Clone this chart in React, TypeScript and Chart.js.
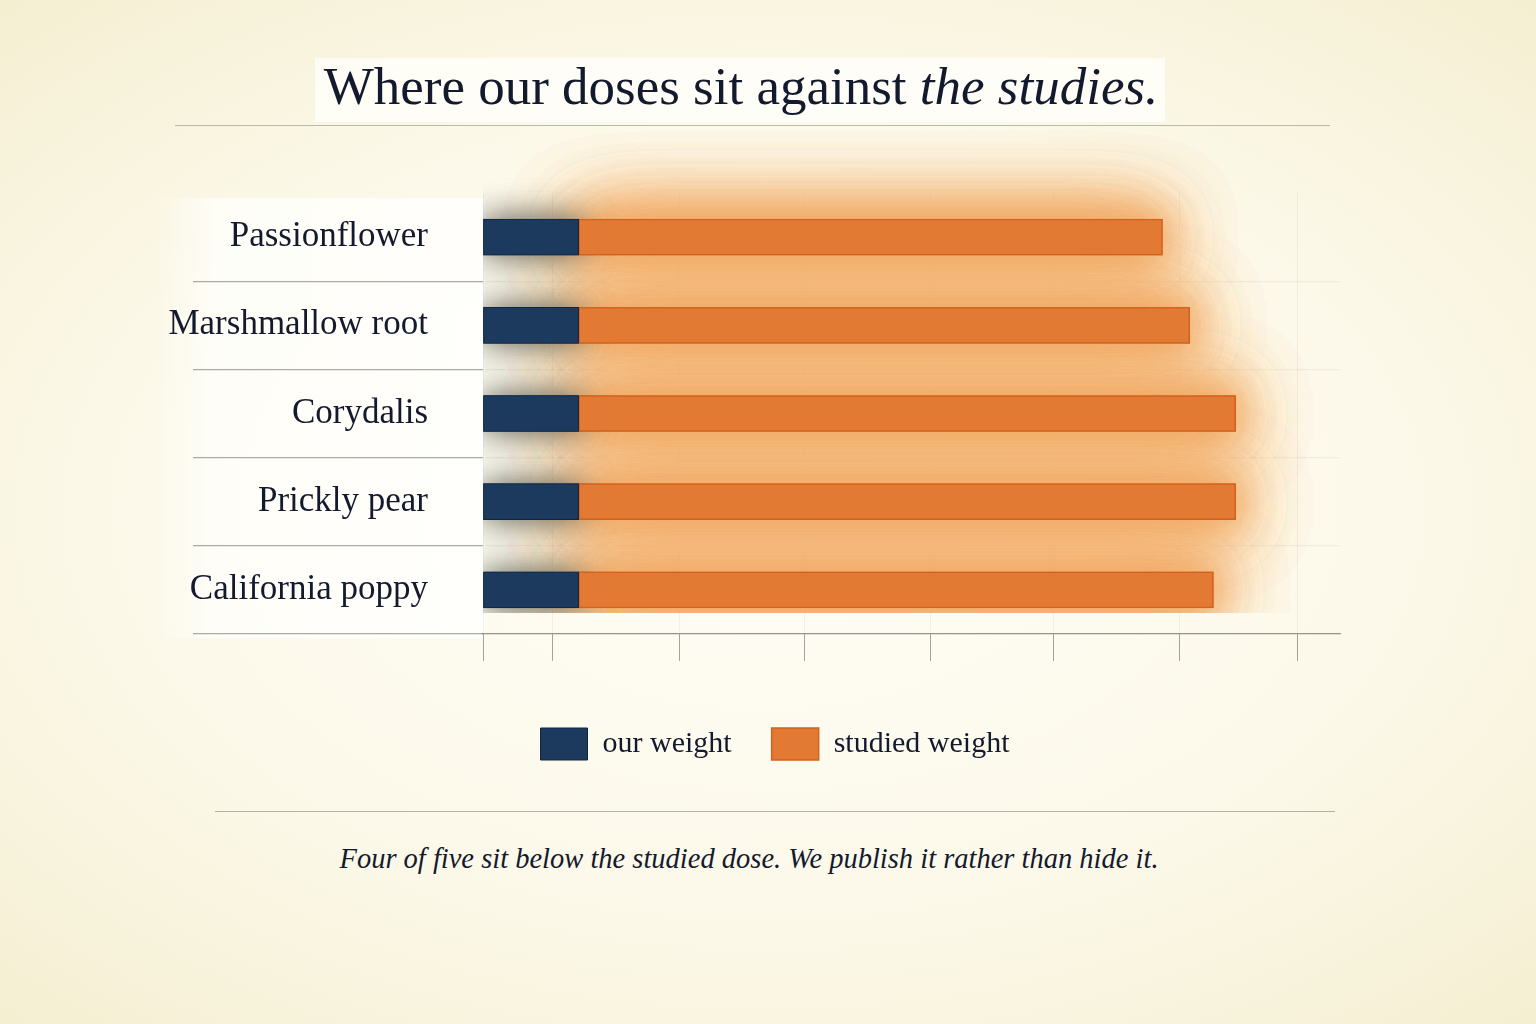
import React, { useEffect, useRef } from "react";
import { Chart, registerables } from "chart.js";

Chart.register(...registerables);

const CATEGORIES = ["Passionflower", "Marshmallow root", "Corydalis", "Prickly pear", "California poppy"];
const OUR_WEIGHT = [77, 77, 77, 77, 77];
const STUDIED_WEIGHT = [547, 569, 606, 606, 588];
const X_TICKS = [0, 56, 158, 259, 360, 459, 561, 656];
const X_MAX = 690;
const SERIES_LABELS = ["our weight", "studied weight"];
const TITLE_MAIN = "Where our doses sit against ";
const TITLE_ITALIC = "the studies.";
const CAPTION = "Four of five sit below the studied dose. We publish it rather than hide it.";

const NAVY = "#1c3a5e";
const NAVY_EDGE = "#11253f";
const ORANGE = "#e37a34";
const ORANGE_EDGE = "#d2621f";
const INK = "#141a2e";
const SERIF = "'Liberation Serif', 'DejaVu Serif', serif";

const glowPlugin = {
  id: "glow",
  afterLayout(chart: any) {
    if (chart.legend) {
      chart.legend.left += 60;
    }
  },
  beforeDatasetsDraw(chart: any) {
    const ctx = chart.ctx;
    const area = chart.chartArea;
    const drawBars = (i: number) => {
      const meta = chart.getDatasetMeta(i);
      meta.data.forEach((el: any) => {
        const { x, y, base, height } = el.getProps(["x", "y", "base", "height"], true);
        const left = Math.min(x, base);
        const w = Math.abs(x - base);
        ctx.fillRect(left, y - height / 2, w, height);
      });
    };
    ctx.save();
    ctx.beginPath();
    ctx.rect(area.left, 0, area.right - area.left + 30, area.bottom - 21);
    ctx.clip();
    // orange glow first (wide, then tighter)
    ctx.fillStyle = ORANGE;
    ctx.shadowColor = "rgba(244,178,110,0.9)";
    ctx.shadowBlur = 80;
    for (let p = 0; p < 4; p++) drawBars(1);
    ctx.shadowColor = "rgba(240,165,95,0.85)";
    ctx.shadowBlur = 40;
    for (let p = 0; p < 2; p++) drawBars(1);
    // navy soft shadow
    ctx.fillStyle = NAVY;
    ctx.shadowColor = "rgba(70,70,55,0.55)";
    ctx.shadowBlur = 34;
    for (let p = 0; p < 2; p++) drawBars(0);
    ctx.restore();
  },
};

function BarChart() {
  const ref = useRef<HTMLCanvasElement>(null);
  useEffect(() => {
    if (!ref.current) return;
    const chart = new Chart(ref.current, {
      type: "bar",
      data: {
        labels: CATEGORIES,
        datasets: [
          {
            label: SERIES_LABELS[0],
            data: OUR_WEIGHT,
            backgroundColor: NAVY,
            borderColor: NAVY_EDGE,
            borderWidth: 1,
            borderSkipped: false,
            grouped: false,
            barThickness: 36,
          } as any,
          {
            label: SERIES_LABELS[1],
            data: STUDIED_WEIGHT.map((s, i) => [OUR_WEIGHT[i], s]),
            backgroundColor: ORANGE,
            borderColor: ORANGE_EDGE,
            borderWidth: 1.5,
            borderSkipped: false,
            grouped: false,
            barThickness: 36,
          } as any,
        ],
      },
      options: {
        indexAxis: "y",
        animation: false,
        responsive: false,
        maintainAspectRatio: false,
        layout: { padding: { left: 150, right: 196, top: 93, bottom: 0 } },
        scales: {
          x: {
            min: 0,
            max: X_MAX,
            afterBuildTicks: (scale: any) => {
              scale.ticks = X_TICKS.map((v) => ({ value: v }));
            },
            afterFit: (scale: any) => {
              scale.height = 54;
            },
            ticks: { display: false },
            grid: {
              color: "rgba(90,90,80,0.07)",
              tickColor: "rgba(90,90,80,0.55)",
              tickLength: 27,
              lineWidth: 1,
            },
            border: { display: true, color: "rgba(90,90,80,0.6)", width: 1.2 },
          },
          y: {
            afterFit: (scale: any) => {
              scale.width = 333;
            },
            ticks: {
              color: INK,
              font: { family: SERIF, size: 35 },
              padding: -235,
            },
            grid: {
              offset: true,
              color: (ctx: any) => (ctx.index === 0 ? "rgba(0,0,0,0)" : "rgba(90,90,80,0.07)"),
              tickColor: (ctx: any) => (ctx.index === 0 ? "rgba(0,0,0,0)" : "rgba(90,90,80,0.5)"),
              tickLength: 290,
              lineWidth: 1.2,
            },
            border: { display: false },
          },
        },
        plugins: {
          legend: {
            position: "bottom",
            labels: {
              boxWidth: 47,
              boxHeight: 32,
              padding: 40,
              color: INK,
              font: { family: SERIF, size: 30 },
              sort: (a: any, b: any) => a.datasetIndex - b.datasetIndex,
            },
          },
          tooltip: { enabled: false },
          title: { display: false },
        },
      } as any,
      plugins: [glowPlugin],
    });
    return () => chart.destroy();
  }, []);
  return (
    <canvas
      ref={ref}
      width={1536}
      height={670}
      style={{ position: "absolute", left: 0, top: 100, width: 1536, height: 670 }}
    />
  );
}

export default function App() {
  return (
    <div
      style={{
        position: "absolute",
        left: 0,
        top: 0,
        width: 1536,
        height: 1024,
        overflow: "hidden",
        background:
          "radial-gradient(ellipse 75% 70% at 50% 50%, #fffef6 0%, #fcf9ea 55%, #f4eed0 100%)",
        fontFamily: SERIF,
        color: INK,
      }}
    >
      <div
        style={{
          position: "absolute",
          left: 315,
          top: 58,
          width: 850,
          height: 64,
          background: "rgba(255,255,252,0.75)",
        }}
      />
      <div
        style={{
          position: "absolute",
          left: 155,
          top: 198,
          width: 330,
          height: 440,
          background:
            "linear-gradient(90deg, rgba(255,255,252,0) 0%, rgba(255,255,252,0.8) 20%, rgba(255,255,252,0.9) 100%)",
        }}
      />
      <div
        style={{
          position: "absolute",
          left: 175,
          top: 125,
          width: 1155,
          height: 0,
          borderTop: "1.5px solid rgba(110,110,100,0.45)",
        }}
      />
      <BarChart />
      <div
        style={{
          position: "absolute",
          left: 741,
          top: 60,
          transform: "translateX(-50%)",
          whiteSpace: "nowrap",
          fontSize: 53,
          lineHeight: "53px",
          color: INK,
        }}
      >
        {TITLE_MAIN}
        <span style={{ fontStyle: "italic" }}>{TITLE_ITALIC}</span>
      </div>
      <div
        style={{
          position: "absolute",
          left: 215,
          top: 811,
          width: 1120,
          height: 0,
          borderTop: "1.5px solid rgba(110,110,100,0.5)",
        }}
      />
      <div
        style={{
          position: "absolute",
          left: 749,
          top: 845,
          transform: "translateX(-50%)",
          whiteSpace: "nowrap",
          fontSize: 28.5,
          lineHeight: "28px",
          fontStyle: "italic",
          color: INK,
        }}
      >
        {CAPTION}
      </div>
    </div>
  );
}
